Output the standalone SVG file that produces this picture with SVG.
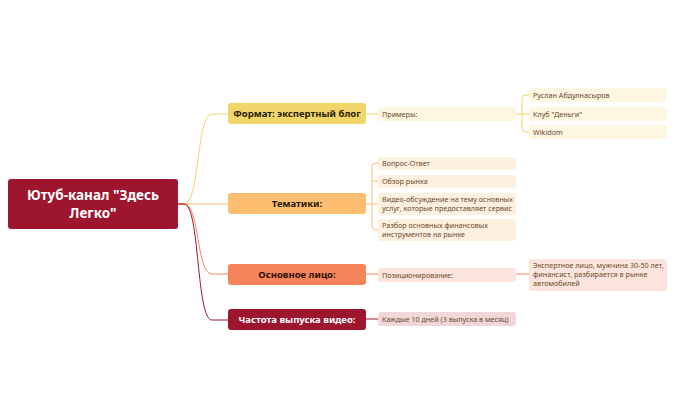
<svg xmlns="http://www.w3.org/2000/svg" width="676" height="418" viewBox="0 0 676 418">
<style>
text{font-family:"Noto Sans","Open Sans",sans-serif}
.b{font-size:9.5px;font-weight:bold;text-anchor:middle}
.s{font-size:7.2px;fill:#6b4a2a}
path{fill:none;stroke-width:1}
</style>
<rect width="676" height="418" fill="#fff"/>
<g id="connectors">
<path d="M178 204 H184 C200 204 196 114 212 114 H228" stroke="#f0d56a"/>
<path d="M178 204 H228" stroke="#fdbe72"/>
<path d="M178 204 H184 C200 204 196 274 212 274 H228" stroke="#f5845a"/>
<path d="M178 204 H184 C200 204 196 320 212 320 H228" stroke="#9e1530"/>
<path d="M366 114 H378" stroke="#f0d56a"/>
<path d="M516 114 H529 M522 114 V99 Q522 95 526 95 H529 M522 114 V128 Q522 132 526 132 H529" stroke="#f0d56a"/>
<path d="M366 204 H372 M372 167 V226 M372 167 Q372 163 376 163 H378 M372 181 H378 M372 204 H378 M372 226 Q372 230 376 230 H378" stroke="#fdbe72"/>
<path d="M366 274 H378 M516 274 H529" stroke="#f5845a"/>
<path d="M366 319 H378" stroke="#9e1530"/>
</g>
<g id="root"><rect x="8" y="179" width="170" height="50" rx="3" fill="#9e1530"/>
<text x="93" y="200" fill="#fff" font-size="13.5" font-weight="bold" text-anchor="middle">Ютуб-канал "Здесь</text>
<text x="93" y="218" fill="#fff" font-size="13.5" font-weight="bold" text-anchor="middle">Легко"</text></g>
<g id="format"><rect x="228" y="103" width="138" height="21" rx="3" fill="#f0d56a"/><text class="b" x="297" y="117" fill="#2a2000">Формат: экспертный блог</text></g>
<g id="topics"><rect x="228" y="193" width="138" height="21" rx="3" fill="#fdbe72"/><text class="b" x="297" y="207" fill="#2a1800">Тематики:</text></g>
<g id="face"><rect x="228" y="264" width="138" height="21" rx="3" fill="#f5845a"/><text class="b" x="297" y="278" fill="#2a1000">Основное лицо:</text></g>
<g id="freq"><rect x="228" y="309" width="138" height="21" rx="3" fill="#9e1530"/><text class="b" x="297" y="323" fill="#fff">Частота выпуска видео:</text></g>
<g id="examples"><rect x="378" y="107" width="138" height="14" rx="3" fill="#fdf6e0"/><text class="s" x="382" y="116.5">Примеры:</text></g>
<g id="ruslan"><rect x="529" y="88" width="138" height="14" rx="3" fill="#fdf6e0"/><text class="s" x="533" y="97.5">Руслан Абдулнасыров</text></g>
<g id="club"><rect x="529" y="107" width="138" height="14" rx="3" fill="#fdf6e0"/><text class="s" x="533" y="116.5">Клуб "Деньги"</text></g>
<g id="wikidom"><rect x="529" y="125" width="138" height="14" rx="3" fill="#fdf6e0"/><text class="s" x="533" y="134.5">Wikidom</text></g>
<g id="qa"><rect x="378" y="157" width="138" height="13" rx="3" fill="#fef0e0"/><text class="s" x="382" y="166">Вопрос-Ответ</text></g>
<g id="review"><rect x="378" y="175" width="138" height="13" rx="3" fill="#fef0e0"/><text class="s" x="382" y="184">Обзор рынка</text></g>
<g id="video"><rect x="378" y="193" width="138" height="22" rx="3" fill="#fef0e0"/><text class="s" x="382" y="202">Видео-обсуждение на тему основных</text><text class="s" x="382" y="211">услуг, которые предоставляет сервис</text></g>
<g id="tools"><rect x="378" y="219" width="138" height="22" rx="3" fill="#fef0e0"/><text class="s" x="382" y="228">Разбор основных финансовых</text><text class="s" x="382" y="237">инструментов на рынке</text></g>
<g id="position"><rect x="378" y="268" width="138" height="14" rx="3" fill="#fde4dc"/><text class="s" x="382" y="277.5">Позиционирование:</text></g>
<g id="expert"><rect x="529" y="259" width="138" height="32" rx="3" fill="#fde4dc"/><text class="s" x="533" y="268">Экспертное лицо, мужчина 30-50 лет,</text><text class="s" x="533" y="277">финансист, разбирается в рынке</text><text class="s" x="533" y="286">автомобилей</text></g>
<g id="every"><rect x="378" y="312" width="138" height="14" rx="3" fill="#f1d6da"/><text class="s" x="382" y="321.5">Каждые 10 дней (3 выпуска в месяц)</text></g>
</svg>
